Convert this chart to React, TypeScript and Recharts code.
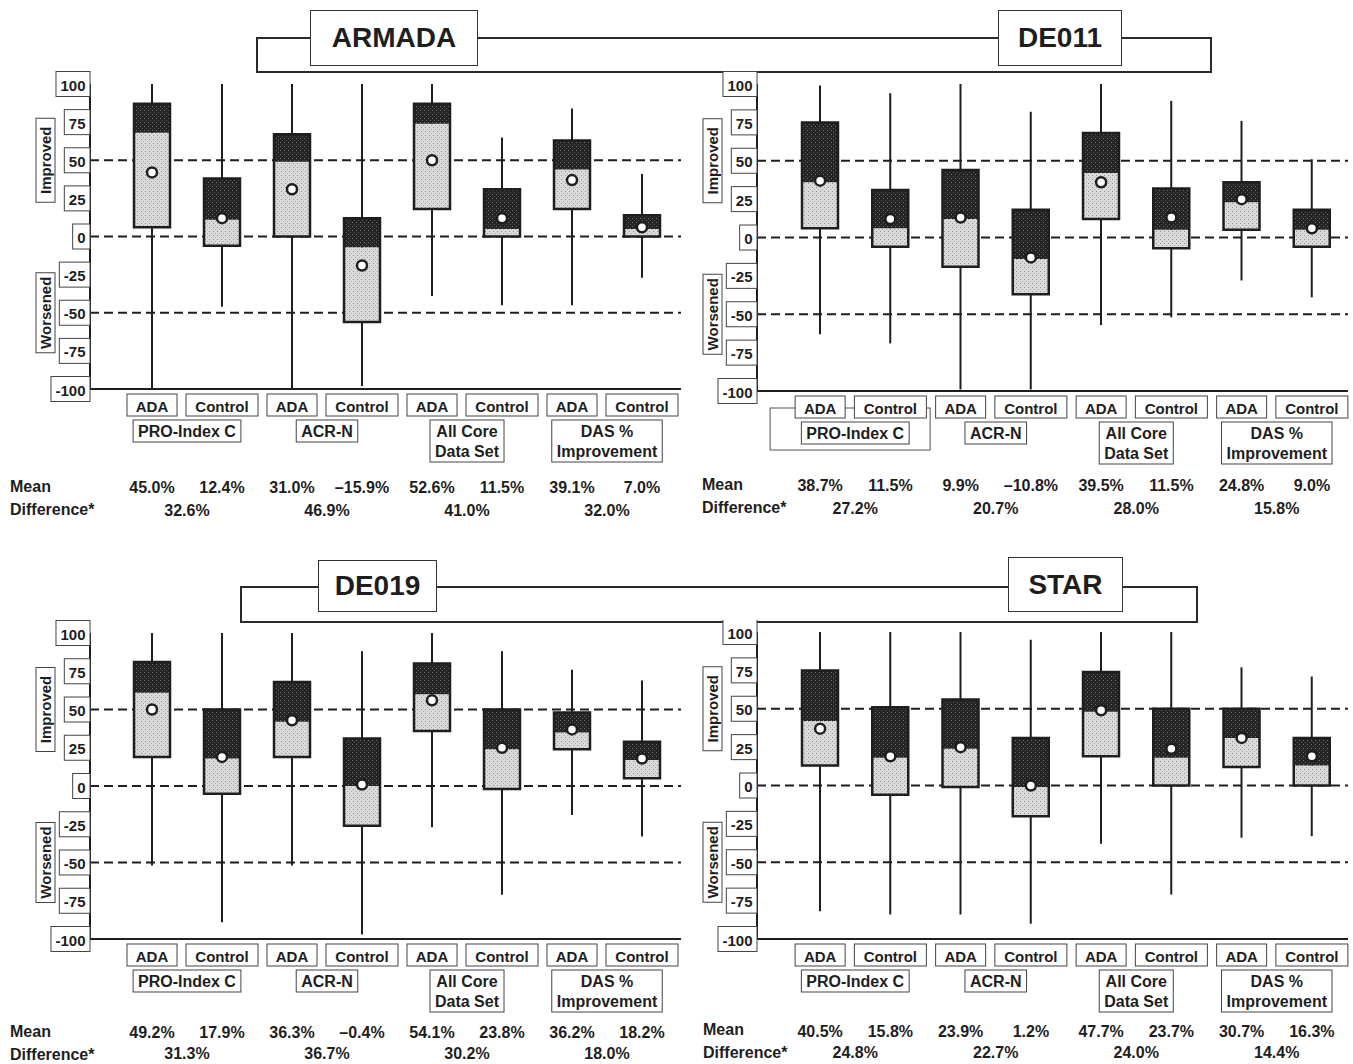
import React from "react";
import { ComposedChart, Bar, Line, XAxis, YAxis, CartesianGrid } from "recharts";

const FONT = "'Liberation Sans', Arial, Helvetica, sans-serif";

const groups = ["PRO-Index C", "ACR-N", "All Core|Data Set", "DAS %|Improvement"];
const arms = ["ADA", "Control"];
const yTicks = [100, 75, 50, 25, 0, -25, -50, -75, -100];
const dashedLevels = [50, 0, -50];

// ARMADA
const armadaLow = [-100, -46, -100, -98, -39, -45, -45, -27];
const armadaQ1 = [6, -6, 0, -56, 18, 0, 18, 0];
const armadaMedian = [68, 11, 49, -7, 74, 5, 44, 5];
const armadaQ3 = [87, 38, 67, 12, 87, 31, 63, 14];
const armadaHigh = [100, 100, 100, 100, 100, 65, 84, 41];
const armadaDot = [42, 12, 31, -19, 50, 12, 37, 6];
const armadaMean = ["45.0%", "12.4%", "31.0%", "–15.9%", "52.6%", "11.5%", "39.1%", "7.0%"];
const armadaDiff = ["32.6%", "46.9%", "41.0%", "32.0%"];

// DE011
const de011Low = [-63, -69, -99, -99, -57, -52, -28, -39];
const de011Q1 = [6, -6, -19, -37, 12, -7, 5, -6];
const de011Median = [36, 6, 12, -14, 42, 5, 23, 5];
const de011Q3 = [75, 31, 44, 18, 68, 32, 36, 18];
const de011High = [99, 94, 100, 82, 100, 89, 76, 51];
const de011Dot = [37, 12, 13, -13, 36, 13, 25, 6];
const de011Mean = ["38.7%", "11.5%", "9.9%", "–10.8%", "39.5%", "11.5%", "24.8%", "9.0%"];
const de011Diff = ["27.2%", "20.7%", "28.0%", "15.8%"];

// DE019
const de019Low = [-52, -89, -52, -97, -27, -71, -19, -33];
const de019Q1 = [19, -5, 19, -26, 36, -2, 24, 5];
const de019Median = [61, 18, 42, 0, 60, 24, 35, 17];
const de019Q3 = [81, 50, 68, 31, 80, 50, 48, 29];
const de019High = [100, 100, 100, 88, 100, 88, 76, 69];
const de019Dot = [50, 19, 43, 1, 56, 25, 37, 18];
const de019Mean = ["49.2%", "17.9%", "36.3%", "–0.4%", "54.1%", "23.8%", "36.2%", "18.2%"];
const de019Diff = ["31.3%", "36.7%", "30.2%", "18.0%"];

// STAR
const starLow = [-82, -84, -84, -90, -38, -71, -34, -33];
const starQ1 = [13, -6, -1, -20, 19, 0, 12, 0];
const starMedian = [42, 18, 24, -1, 48, 18, 31, 13];
const starQ3 = [75, 51, 56, 31, 74, 50, 50, 31];
const starHigh = [100, 100, 100, 95, 100, 100, 77, 71];
const starDot = [37, 19, 25, 0, 49, 24, 31, 19];
const starMean = ["40.5%", "15.8%", "23.9%", "1.2%", "47.7%", "23.7%", "30.7%", "16.3%"];
const starDiff = ["24.8%", "22.7%", "24.0%", "14.4%"];

type Row = {
  key: string;
  group: string;
  arm: string;
  gi: number;
  whisker: number[];
  lower: number[];
  upper: number[];
  box: number[];
  dot: number;
  mean: string;
};

function buildRows(low: number[], q1: number[], med: number[], q3: number[], high: number[], dot: number[], mean: string[]): Row[] {
  return groups.flatMap((g, gi) =>
    arms.map((a, ai) => {
      const i = gi * 2 + ai;
      return {
        key: `${g}-${a}`,
        group: g,
        arm: a,
        gi,
        whisker: [low[i], high[i]],
        lower: [q1[i], med[i]],
        upper: [med[i], q3[i]],
        box: [q1[i], q3[i]],
        dot: dot[i],
        mean: mean[i],
      };
    })
  );
}

let ctx: CanvasRenderingContext2D | null = null;
function textWidth(s: string, size: number) {
  if (!ctx) ctx = document.createElement("canvas").getContext("2d");
  if (!ctx) return s.length * size * 0.55;
  ctx.font = `bold ${size}px ${FONT}`;
  return ctx.measureText(s).width;
}

const INK = "#1e1e1e";

type PanelProps = {
  id: string;
  data: Row[];
  diffs: string[];
  left: number;
  top: number;
  width: number;
  height: number;
  marginTop: number;
  marginRight: number;
  xHeight: number;
  pad: { left: number; right: number };
  meanY: number;
  diffY: number;
  outerBox?: boolean;
};

function Panel({ id, data, diffs, left, top, width, height, marginTop, marginRight, xHeight, pad, meanY, diffY, outerBox }: PanelProps) {
  const renderYTick = (props: any) => {
    const { x, y, payload } = props;
    const s = String(payload.value);
    const w = textWidth(s, 15) + 9;
    return (
      <g>
        <rect x={x - w} y={y - 12.5} width={w} height={25} fill="#fff" stroke="#444" strokeWidth={1} />
        <text x={x - w / 2} y={y + 1} textAnchor="middle" dominantBaseline="central" fontFamily={FONT} fontWeight={700} fontSize={15} fill={INK}>
          {s}
        </text>
        {payload.value === 50 && (
          <g>
            <rect x={x - 54} y={y - 42} width={19} height={84} fill="#fff" stroke="#444" strokeWidth={1} />
            <text transform={`translate(${x - 44.5},${y}) rotate(-90)`} textAnchor="middle" dominantBaseline="central" fontFamily={FONT} fontWeight={700} fontSize={15} fill={INK}>
              Improved
            </text>
          </g>
        )}
        {payload.value === -50 && (
          <g>
            <rect x={x - 54} y={y - 40} width={19} height={80} fill="#fff" stroke="#444" strokeWidth={1} />
            <text transform={`translate(${x - 44.5},${y}) rotate(-90)`} textAnchor="middle" dominantBaseline="central" fontFamily={FONT} fontWeight={700} fontSize={15} fill={INK}>
              Worsened
            </text>
          </g>
        )}
      </g>
    );
  };

  const renderXTick = (props: any) => {
    const { x, y, payload } = props;
    const row = data.find((r) => r.key === payload.value);
    if (!row) return <g />;
    const half = payload.offset ? payload.offset : 35;
    const bw = row.arm === "ADA" ? 50 : 72;
    const lines = row.group.split("|");
    const gw = Math.max(...lines.map((l) => textWidth(l, 16))) + 10;
    const gh = lines.length === 1 ? 22 : 42;
    const gx = x + half;
    return (
      <g>
        {outerBox && row.gi === 0 && row.arm === "ADA" && (
          <rect x={x - 50} y={y + 17} width={160} height={42} fill="#fff" stroke="#555" strokeWidth={1} />
        )}
        <rect x={x - bw / 2} y={y + 5} width={bw} height={22} fill="#fff" stroke="#444" strokeWidth={1} />
        <text x={x} y={y + 17} textAnchor="middle" dominantBaseline="central" fontFamily={FONT} fontWeight={700} fontSize={15} fill={INK}>
          {row.arm}
        </text>
        <text x={x} y={y + meanY} textAnchor="middle" dominantBaseline="central" fontFamily={FONT} fontWeight={700} fontSize={16} fill={INK}>
          {row.mean}
        </text>
        {row.arm === "ADA" && (
          <g>
            <rect x={gx - gw / 2} y={y + 31} width={gw} height={gh} fill="#fff" stroke="#444" strokeWidth={1} />
            {lines.map((l, i) => (
              <text key={l} x={gx} y={y + 42 + i * 20} textAnchor="middle" dominantBaseline="central" fontFamily={FONT} fontWeight={700} fontSize={16} fill={INK}>
                {l}
              </text>
            ))}
            <text x={gx} y={y + diffY} textAnchor="middle" dominantBaseline="central" fontFamily={FONT} fontWeight={700} fontSize={16} fill={INK}>
              {diffs[row.gi]}
            </text>
          </g>
        )}
      </g>
    );
  };

  const frame = { stroke: INK, strokeWidth: 2 };

  return (
    <div style={{ position: "absolute", left, top, width, height }}>
      <ComposedChart width={width} height={height} data={data} margin={{ top: marginTop, right: marginRight, bottom: 0, left: 0 }}>
        <defs>
          <pattern id={`dk${id}`} width="4" height="4" patternUnits="userSpaceOnUse">
            <rect width="4" height="4" fill="#242424" />
            <rect x="0" y="0" width="1" height="1" fill="#707070" />
            <rect x="2" y="2" width="1" height="1" fill="#595959" />
          </pattern>
          <pattern id={`lt${id}`} width="4" height="4" patternUnits="userSpaceOnUse">
            <rect width="4" height="4" fill="#dadada" />
            <rect x="1" y="1" width="1" height="1" fill="#939393" />
            <rect x="3" y="3" width="1" height="1" fill="#aaaaaa" />
          </pattern>
        </defs>
        <XAxis
          xAxisId="a"
          dataKey="key"
          interval={0}
          tickLine={false}
          tickSize={0}
          tickMargin={0}
          height={xHeight}
          padding={pad}
          axisLine={frame}
          tick={renderXTick}
        />
        <XAxis xAxisId="b" dataKey="key" hide padding={pad} />
        <XAxis xAxisId="c" dataKey="key" hide padding={pad} />
        <XAxis xAxisId="d" dataKey="key" hide padding={pad} />
        <XAxis xAxisId="e" dataKey="key" hide padding={pad} />
        <XAxis xAxisId="f" dataKey="key" orientation="top" height={0} tick={false} tickLine={false} axisLine={frame} padding={pad} />
        <YAxis
          type="number"
          domain={[-100, 100]}
          ticks={yTicks}
          interval={0}
          width={90}
          tickLine={false}
          tickSize={0}
          tickMargin={0}
          axisLine={frame}
          tick={renderYTick}
        />
        <YAxis yAxisId="r" orientation="right" type="number" domain={[-100, 100]} width={0} tick={false} tickLine={false} axisLine={frame} />
        <CartesianGrid
          xAxisId="a"
          vertical={false}
          horizontalValues={dashedLevels}
          stroke={INK}
          strokeWidth={1.8}
          strokeDasharray="9 5"
        />
        <Bar xAxisId="b" dataKey="whisker" barSize={2} fill={INK} isAnimationActive={false} />
        <Bar xAxisId="c" dataKey="lower" barSize={36} fill={`url(#lt${id})`} isAnimationActive={false} />
        <Bar xAxisId="d" dataKey="upper" barSize={36} fill={`url(#dk${id})`} isAnimationActive={false} />
        <Bar xAxisId="e" dataKey="box" barSize={36} fill="none" stroke={INK} strokeWidth={2.5} isAnimationActive={false} />
        <Line
          xAxisId="a"
          dataKey="dot"
          stroke="none"
          strokeWidth={0}
          dot={{ r: 5, fill: "#fff", stroke: INK, strokeWidth: 2.5 }}
          activeDot={false}
          isAnimationActive={false}
        />
      </ComposedChart>
    </div>
  );
}

const textStyle: React.CSSProperties = {
  position: "absolute",
  fontFamily: FONT,
  fontWeight: 700,
  fontSize: 16,
  lineHeight: "20px",
  color: INK,
  whiteSpace: "nowrap",
};

function TitleBox({ text, left, top, width, height }: { text: string; left: number; top: number; width: number; height: number }) {
  return (
    <div
      style={{
        position: "absolute",
        left,
        top,
        width,
        height,
        boxSizing: "border-box",
        border: "1.5px solid #333",
        background: "#fff",
        display: "flex",
        alignItems: "center",
        justifyContent: "center",
        fontFamily: FONT,
        fontWeight: 700,
        fontSize: 28,
        color: INK,
      }}
    >
      {text}
    </div>
  );
}

function StatLabels({ left, top }: { left: number; top: number }) {
  return (
    <>
      <div style={{ ...textStyle, left, top }}>Mean</div>
      <div style={{ ...textStyle, left, top: top + 23 }}>Difference*</div>
    </>
  );
}

export default function App() {
  const armada = buildRows(armadaLow, armadaQ1, armadaMedian, armadaQ3, armadaHigh, armadaDot, armadaMean);
  const de011 = buildRows(de011Low, de011Q1, de011Median, de011Q3, de011High, de011Dot, de011Mean);
  const de019 = buildRows(de019Low, de019Q1, de019Median, de019Q3, de019High, de019Dot, de019Mean);
  const star = buildRows(starLow, starQ1, starMedian, starQ3, starHigh, starDot, starMean);

  return (
    <div style={{ position: "absolute", left: 0, top: 0, width: 1353, height: 1064, overflow: "hidden", background: "#fff" }}>
      {/* top bracket */}
      <div style={{ position: "absolute", left: 256, top: 37, width: 956, height: 36, boxSizing: "border-box", border: "2px solid #2a2a2a" }} />
      <TitleBox text="ARMADA" left={310} top={10} width={168} height={56} />
      <TitleBox text="DE011" left={998} top={10} width={124} height={56} />

      {/* bottom bracket */}
      <div style={{ position: "absolute", left: 240, top: 586, width: 958, height: 37, boxSizing: "border-box", border: "2px solid #2a2a2a" }} />
      <TitleBox text="DE019" left={318} top={560} width={119} height={52} />
      <TitleBox text="STAR" left={1008} top={557} width={115} height={55} />

      <Panel id="a" data={armada} diffs={armadaDiff} left={0} top={70} width={690} height={460} marginTop={14} marginRight={9} xHeight={141} pad={{ left: 27, right: 4 }} meanY={98} diffY={121} />
      <Panel id="b" data={de011} diffs={de011Diff} left={667} top={70} width={686} height={460} marginTop={14} marginRight={5} xHeight={139} pad={{ left: 28, right: 1 }} meanY={94} diffY={117} outerBox />
      <Panel id="c" data={de019} diffs={de019Diff} left={0} top={620} width={690} height={460} marginTop={13} marginRight={9} xHeight={141} pad={{ left: 27, right: 4 }} meanY={93} diffY={114} />
      <Panel id="d" data={star} diffs={starDiff} left={667} top={620} width={686} height={460} marginTop={12} marginRight={5} xHeight={141} pad={{ left: 28, right: 1 }} meanY={92} diffY={113} />

      <StatLabels left={10} top={477} />
      <StatLabels left={702} top={475} />
      <StatLabels left={10} top={1022} />
      <StatLabels left={703} top={1020} />
    </div>
  );
}
